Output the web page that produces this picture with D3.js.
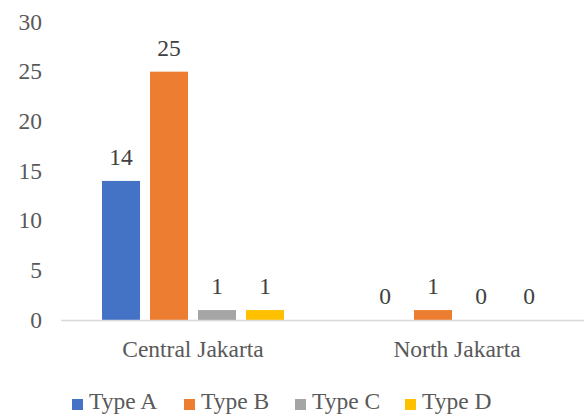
<!DOCTYPE html>
<html><head><meta charset="utf-8">
<script src="https://cdn.jsdelivr.net/npm/d3@7"></script>
<style>body{margin:0;background:#fff}svg{display:block}</style>
</head><body>
<script>
const categories = ["Central Jakarta", "North Jakarta"];
const seriesNames = ["Type A", "Type B", "Type C", "Type D"];
const typeA = [14, 0];
const typeB = [25, 1];
const typeC = [1, 0];
const typeD = [1, 0];
const yTicks = [0, 5, 10, 15, 20, 25, 30];
const colors = ["#4472C4", "#ED7D31", "#A5A5A5", "#FFC000"];
const seriesValues = [typeA, typeB, typeC, typeD];

const W = 584, H = 417;
const FONT = '"Liberation Serif"';
const svg = d3.select("body").append("svg").attr("width", W).attr("height", H);

const x0 = d3.scaleBand().domain(categories).range([61, 589]);
const x1 = d3.scaleBand().domain(seriesNames).range([41, 223]).paddingInner(10/48).paddingOuter(0);
const y = d3.scaleLinear().domain([0, 30]).range([320, 22]);

function txt(sel) {
  return sel.style("font-family", FONT).style("font-size", "23.5px");
}

// y tick labels
txt(svg.append("g").selectAll("text").data(yTicks).join("text")
  .attr("x", 42).attr("y", d => y(d)).attr("dy", "0.33em")
  .attr("text-anchor", "end")
  .attr("fill", "#595959").text(d => d));

const groups = svg.append("g").selectAll("g").data(categories).join("g")
  .attr("transform", d => `translate(${x0(d)},0)`);

groups.each(function(cat, ci) {
  const g = d3.select(this);
  seriesNames.forEach((s, si) => {
    const v = seriesValues[si][ci];
    g.append("rect").attr("x", x1(s)).attr("width", x1.bandwidth())
      .attr("y", y(v)).attr("height", y(0) - y(v)).attr("fill", colors[si]);
    txt(g.append("text").attr("x", x1(s) + x1.bandwidth()/2).attr("y", y(v) - 16)
      .attr("text-anchor", "middle")
      .attr("fill", "#404040").text(v));
  });
  txt(g.append("text").attr("x", x0.bandwidth()/2).attr("y", 357)
    .attr("text-anchor", "middle")
    .attr("fill", "#595959").text(cat));
});

// axis line
svg.append("line").attr("x1", 61).attr("x2", 584).attr("y1", 320.5).attr("y2", 320.5)
  .attr("stroke", "#d9d9d9").attr("stroke-width", 1.5);

// legend
const legendX = [72, 184, 295, 405];
const lg = svg.append("g").selectAll("g").data(seriesNames).join("g")
  .attr("transform", (d, i) => `translate(${legendX[i]},0)`);
lg.append("rect").attr("x", 0).attr("y", 399).attr("width", 11).attr("height", 11)
  .attr("fill", (d, i) => colors[i]);
txt(lg.append("text").attr("x", 17).attr("y", 409)
  .attr("fill", "#595959").text(d => d));
</script>
</body></html>
